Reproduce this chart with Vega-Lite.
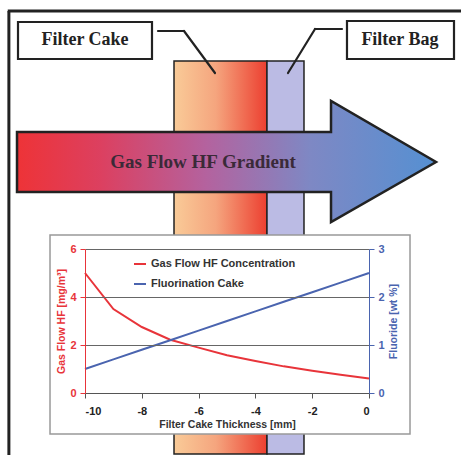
{
  "$schema": "https://vega.github.io/schema/vega-lite/v6.json",
  "width": 284,
  "height": 144,
  "autosize": {"type": "none"},
  "padding": {"left": 85, "top": 249, "right": 92, "bottom": 62},
  "background": "white",
  "config": {"view": {"stroke": null}, "font": "Liberation Sans"},
  "datasets": {
    "curve": [
      {"t": -10, "hf": 5.0, "fl": 0.5},
      {"t": -9, "hf": 3.5, "fl": 0.7},
      {"t": -8, "hf": 2.75, "fl": 0.9},
      {"t": -7, "hf": 2.22, "fl": 1.1},
      {"t": -6, "hf": 1.89, "fl": 1.3},
      {"t": -5, "hf": 1.57, "fl": 1.5},
      {"t": -4, "hf": 1.33, "fl": 1.7},
      {"t": -3, "hf": 1.11, "fl": 1.9},
      {"t": -2, "hf": 0.93, "fl": 2.1},
      {"t": -1, "hf": 0.76, "fl": 2.3},
      {"t": 0, "hf": 0.6, "fl": 2.5}
    ],
    "border": [
      {"x1": -12.68, "y1": 15.92, "x2": -12.68, "y2": -2.6},
      {"x1": -12.72, "y1": 15.92, "x2": 3.3, "y2": 15.92}
    ],
    "cake": [{"x1": -6.866, "x2": -3.592, "y1": 13.833, "y2": -2.542}],
    "bag": [{"x1": -3.592, "x2": -2.289, "y1": 13.833, "y2": -2.542}],
    "leaders": [
      {"x1": -7.43, "y1": 15.083, "x2": -6.514, "y2": 15.083},
      {"x1": -6.514, "y1": 15.083, "x2": -5.423, "y2": 13.333},
      {"x1": -0.951, "y1": 15.167, "x2": -1.901, "y2": 15.167},
      {"x1": -1.901, "y1": 15.167, "x2": -2.852, "y2": 13.333}
    ],
    "boxes": [
      {"x1": -12.359, "x2": -7.641, "y1": 15.458, "y2": 13.917, "label": "Filter Cake", "cx": -10.0, "cy": 14.69},
      {"x1": -0.775, "x2": 2.993, "y1": 15.5, "y2": 13.917, "label": "Filter Bag", "cx": 1.09, "cy": 14.69}
    ],
    "arrow": [
      {"x": -12.394, "yt": 10.875, "yb": 8.375},
      {"x": -1.338, "yt": 10.875, "yb": 8.375},
      {"x": -1.337, "yt": 12.167, "yb": 7.125},
      {"x": 2.359, "yt": 9.625, "yb": 9.625}
    ],
    "arrowText": [{"cx": -5.845, "cy": 9.625, "label": "Gas Flow HF Gradient"}],
    "chartBox": [{"x1": -11.232, "x2": 1.444, "y1": 6.583, "y2": -1.708}]
  },
  "resolve": {"scale": {"y": "independent"}, "axis": {"x": "independent"}},
  "layer": [
    {
      "data": {"name": "border"},
      "mark": {"type": "rule", "color": "#222222", "strokeWidth": 3},
      "encoding": {
        "x": {"field": "x1", "type": "quantitative", "scale": {"domain": [-10, 0], "nice": false}, "axis": null},
        "x2": {"field": "x2"},
        "y": {"field": "y1", "type": "quantitative", "scale": {"domain": [0, 6], "nice": false}, "axis": null},
        "y2": {"field": "y2"}
      }
    },
    {
      "data": {"name": "cake"},
      "mark": {"type": "rect", "stroke": "#222222", "strokeWidth": 1.5,
        "fill": {"gradient": "linear", "x1": 0, "x2": 1, "y1": 0, "y2": 0,
          "stops": [{"offset": 0, "color": "#F9CB98"}, {"offset": 0.45, "color": "#F5A57E"}, {"offset": 1, "color": "#EC3F30"}]}},
      "encoding": {
        "x": {"field": "x1", "type": "quantitative", "scale": {"domain": [-10, 0], "nice": false}, "axis": null},
        "x2": {"field": "x2"},
        "y": {"field": "y1", "type": "quantitative", "scale": {"domain": [0, 6], "nice": false}, "axis": null},
        "y2": {"field": "y2"}
      }
    },
    {
      "data": {"name": "bag"},
      "mark": {"type": "rect", "stroke": "#222222", "strokeWidth": 1.5, "fill": "#BBBBE4"},
      "encoding": {
        "x": {"field": "x1", "type": "quantitative", "scale": {"domain": [-10, 0], "nice": false}, "axis": null},
        "x2": {"field": "x2"},
        "y": {"field": "y1", "type": "quantitative", "scale": {"domain": [0, 6], "nice": false}, "axis": null},
        "y2": {"field": "y2"}
      }
    },
    {
      "data": {"name": "leaders"},
      "mark": {"type": "rule", "color": "#222222", "strokeWidth": 2.2, "strokeCap": "round"},
      "encoding": {
        "x": {"field": "x1", "type": "quantitative", "scale": {"domain": [-10, 0], "nice": false}, "axis": null},
        "x2": {"field": "x2"},
        "y": {"field": "y1", "type": "quantitative", "scale": {"domain": [0, 6], "nice": false}, "axis": null},
        "y2": {"field": "y2"}
      }
    },
    {
      "data": {"name": "boxes"},
      "mark": {"type": "rect", "fill": "white", "stroke": "#222222", "strokeWidth": 2.2},
      "encoding": {
        "x": {"field": "x1", "type": "quantitative", "scale": {"domain": [-10, 0], "nice": false}, "axis": null},
        "x2": {"field": "x2"},
        "y": {"field": "y1", "type": "quantitative", "scale": {"domain": [0, 6], "nice": false}, "axis": null},
        "y2": {"field": "y2"}
      }
    },
    {
      "data": {"name": "boxes"},
      "mark": {"type": "text", "font": "Liberation Serif", "fontWeight": "bold", "fontSize": 18, "color": "#222222", "align": "center", "baseline": "middle"},
      "encoding": {
        "x": {"field": "cx", "type": "quantitative", "scale": {"domain": [-10, 0], "nice": false}, "axis": null},
        "y": {"field": "cy", "type": "quantitative", "scale": {"domain": [0, 6], "nice": false}, "axis": null},
        "text": {"field": "label"}
      }
    },
    {
      "data": {"name": "arrow"},
      "mark": {"type": "area", "stroke": "#222222", "strokeWidth": 2.5, "strokeJoin": "miter",
        "fill": {"gradient": "linear", "x1": 0, "x2": 1, "y1": 0, "y2": 0,
          "stops": [{"offset": 0, "color": "#EE3337"}, {"offset": 0.2, "color": "#DC4060"}, {"offset": 0.45, "color": "#B4629E"}, {"offset": 0.7, "color": "#7E88C4"}, {"offset": 1, "color": "#5590D2"}]}},
      "encoding": {
        "x": {"field": "x", "type": "quantitative", "scale": {"domain": [-10, 0], "nice": false}, "axis": null},
        "y": {"field": "yt", "type": "quantitative", "scale": {"domain": [0, 6], "nice": false}, "axis": null},
        "y2": {"field": "yb"}
      }
    },
    {
      "data": {"name": "arrowText"},
      "mark": {"type": "text", "font": "Liberation Serif", "fontWeight": "bold", "fontSize": 19, "color": "#3A2A38", "align": "center", "baseline": "middle"},
      "encoding": {
        "x": {"field": "cx", "type": "quantitative", "scale": {"domain": [-10, 0], "nice": false}, "axis": null},
        "y": {"field": "cy", "type": "quantitative", "scale": {"domain": [0, 6], "nice": false}, "axis": null},
        "text": {"field": "label"}
      }
    },
    {
      "data": {"name": "chartBox"},
      "mark": {"type": "rect", "fill": "white", "stroke": "#999999", "strokeWidth": 1.5},
      "encoding": {
        "x": {"field": "x1", "type": "quantitative", "scale": {"domain": [-10, 0], "nice": false}, "axis": null},
        "x2": {"field": "x2"},
        "y": {"field": "y1", "type": "quantitative", "scale": {"domain": [0, 6], "nice": false}, "axis": null},
        "y2": {"field": "y2"}
      }
    },
    {
      "data": {"name": "curve"},
      "mark": {"type": "line", "strokeWidth": 2},
      "encoding": {
        "x": {"field": "t", "type": "quantitative", "scale": {"domain": [-10, 0], "nice": false},
          "axis": {"title": "Filter Cake Thickness [mm]", "orient": "bottom", "values": [-10, -8, -6, -4, -2, 0], "grid": false, "zindex": 1,
            "labelExpr": "toString(datum.value)",
            "domainColor": "#555555", "tickColor": "#555555", "tickSize": 5, "labelPadding": 7,
            "labelFont": "Liberation Sans", "labelFontWeight": "bold", "labelFontSize": 11, "labelColor": "#222222",
            "titleFont": "Liberation Sans", "titleFontWeight": "bold", "titleFontSize": 10.5, "titleColor": "#333333", "titlePadding": 3}},
        "y": {"field": "hf", "type": "quantitative", "scale": {"domain": [0, 6], "nice": false},
          "axis": {"title": "Gas Flow HF [mg/m³]", "orient": "left", "values": [0, 2, 4, 6], "zindex": 1,
            "grid": true, "gridColor": "#666666", "gridWidth": 1,
            "domainColor": "#E8343A", "tickColor": "#E8343A", "tickSize": 5, "labelPadding": 4,
            "labelFont": "Liberation Sans", "labelFontWeight": "bold", "labelFontSize": 11, "labelColor": "#E8343A",
            "titleFont": "Liberation Sans", "titleFontWeight": "bold", "titleFontSize": 10.5, "titleColor": "#E8343A", "titlePadding": 3}},
        "color": {"datum": "Gas Flow HF Concentration", "type": "nominal",
          "scale": {"domain": ["Gas Flow HF Concentration", "Fluorination Cake"], "range": ["#E8343A", "#4A64AF"]},
          "legend": {"title": null, "orient": "none", "legendX": 48, "legendY": 8, "symbolType": "stroke", "symbolSize": 144,
            "symbolStrokeWidth": 2, "rowPadding": 8, "labelOffset": 4, "labelFont": "Liberation Sans", "labelFontWeight": "bold",
            "labelFontSize": 11, "labelColor": "#333333"}}
      }
    },
    {
      "data": {"name": "curve"},
      "mark": {"type": "line", "strokeWidth": 2},
      "encoding": {
        "x": {"field": "t", "type": "quantitative", "scale": {"domain": [-10, 0], "nice": false}, "axis": null},
        "y": {"field": "fl", "type": "quantitative", "scale": {"domain": [0, 3], "nice": false},
          "axis": {"title": "Fluoride [wt %]", "orient": "right", "values": [0, 1, 2, 3], "zindex": 1, "grid": false,
            "domainColor": "#4A64AF", "tickColor": "#4A64AF", "tickSize": 5, "labelPadding": 4,
            "labelFont": "Liberation Sans", "labelFontWeight": "bold", "labelFontSize": 11, "labelColor": "#4A64AF",
            "titleAngle": 270, "titleBaseline": "top",
            "titleFont": "Liberation Sans", "titleFontWeight": "bold", "titleFontSize": 10.5, "titleColor": "#4A64AF", "titlePadding": 4}},
        "color": {"datum": "Fluorination Cake", "type": "nominal"}
      }
    }
  ]
}
